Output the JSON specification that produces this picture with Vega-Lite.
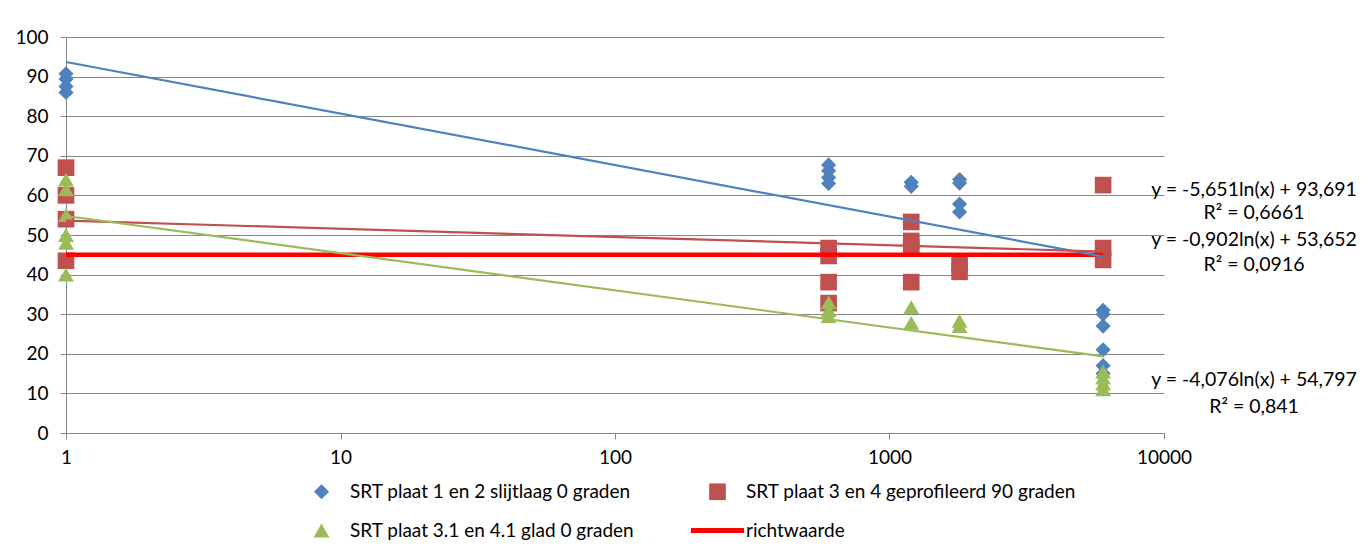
{
  "$schema": "https://vega.github.io/schema/vega-lite/v6.json",
  "autosize": {"type": "none"},
  "width": 1098,
  "height": 396,
  "padding": {"left": 66, "top": 37, "right": 207, "bottom": 118},
  "background": "white",
  "config": {
    "view": {"stroke": null},
    "font": "Lato",
    "axis": {"labelFont": "Lato", "labelFontSize": 19, "labelColor": "#000000", "title": null, "domainColor": "#868686", "tickColor": "#868686", "gridColor": "#868686", "gridOpacity": 1, "tickSize": 6, "labelOverlap": false}
  },
  "datasets": {
    "points": [
      {"series": "SRT plaat 1 en 2 slijtlaag 0 graden", "x": 1, "y": 90.7},
      {"series": "SRT plaat 1 en 2 slijtlaag 0 graden", "x": 1, "y": 89.4},
      {"series": "SRT plaat 1 en 2 slijtlaag 0 graden", "x": 1, "y": 87.5},
      {"series": "SRT plaat 1 en 2 slijtlaag 0 graden", "x": 1, "y": 86},
      {"series": "SRT plaat 1 en 2 slijtlaag 0 graden", "x": 600, "y": 67.7},
      {"series": "SRT plaat 1 en 2 slijtlaag 0 graden", "x": 600, "y": 66.2},
      {"series": "SRT plaat 1 en 2 slijtlaag 0 graden", "x": 600, "y": 64.5},
      {"series": "SRT plaat 1 en 2 slijtlaag 0 graden", "x": 600, "y": 63},
      {"series": "SRT plaat 1 en 2 slijtlaag 0 graden", "x": 1200, "y": 63.3},
      {"series": "SRT plaat 1 en 2 slijtlaag 0 graden", "x": 1200, "y": 62.3},
      {"series": "SRT plaat 1 en 2 slijtlaag 0 graden", "x": 1800, "y": 64},
      {"series": "SRT plaat 1 en 2 slijtlaag 0 graden", "x": 1800, "y": 63.1},
      {"series": "SRT plaat 1 en 2 slijtlaag 0 graden", "x": 1800, "y": 57.8},
      {"series": "SRT plaat 1 en 2 slijtlaag 0 graden", "x": 1800, "y": 55.8},
      {"series": "SRT plaat 1 en 2 slijtlaag 0 graden", "x": 6000, "y": 31},
      {"series": "SRT plaat 1 en 2 slijtlaag 0 graden", "x": 6000, "y": 30},
      {"series": "SRT plaat 1 en 2 slijtlaag 0 graden", "x": 6000, "y": 27},
      {"series": "SRT plaat 1 en 2 slijtlaag 0 graden", "x": 6000, "y": 21},
      {"series": "SRT plaat 1 en 2 slijtlaag 0 graden", "x": 6000, "y": 17},
      {"series": "SRT plaat 1 en 2 slijtlaag 0 graden", "x": 6000, "y": 15},
      {"series": "SRT plaat 3 en 4 geprofileerd 90 graden", "x": 1, "y": 67},
      {"series": "SRT plaat 3 en 4 geprofileerd 90 graden", "x": 1, "y": 60},
      {"series": "SRT plaat 3 en 4 geprofileerd 90 graden", "x": 1, "y": 54},
      {"series": "SRT plaat 3 en 4 geprofileerd 90 graden", "x": 1, "y": 43.5},
      {"series": "SRT plaat 3 en 4 geprofileerd 90 graden", "x": 600, "y": 46.7},
      {"series": "SRT plaat 3 en 4 geprofileerd 90 graden", "x": 600, "y": 44.7},
      {"series": "SRT plaat 3 en 4 geprofileerd 90 graden", "x": 600, "y": 38.1},
      {"series": "SRT plaat 3 en 4 geprofileerd 90 graden", "x": 600, "y": 32.8},
      {"series": "SRT plaat 3 en 4 geprofileerd 90 graden", "x": 1200, "y": 53.3},
      {"series": "SRT plaat 3 en 4 geprofileerd 90 graden", "x": 1200, "y": 48.5},
      {"series": "SRT plaat 3 en 4 geprofileerd 90 graden", "x": 1200, "y": 47},
      {"series": "SRT plaat 3 en 4 geprofileerd 90 graden", "x": 1200, "y": 38.1},
      {"series": "SRT plaat 3 en 4 geprofileerd 90 graden", "x": 1800, "y": 42.9},
      {"series": "SRT plaat 3 en 4 geprofileerd 90 graden", "x": 1800, "y": 40.7},
      {"series": "SRT plaat 3 en 4 geprofileerd 90 graden", "x": 6000, "y": 62.6},
      {"series": "SRT plaat 3 en 4 geprofileerd 90 graden", "x": 6000, "y": 46.7},
      {"series": "SRT plaat 3 en 4 geprofileerd 90 graden", "x": 6000, "y": 43.7},
      {"series": "SRT plaat 3.1 en 4.1 glad 0 graden", "x": 1, "y": 64},
      {"series": "SRT plaat 3.1 en 4.1 glad 0 graden", "x": 1, "y": 61.5},
      {"series": "SRT plaat 3.1 en 4.1 glad 0 graden", "x": 1, "y": 55},
      {"series": "SRT plaat 3.1 en 4.1 glad 0 graden", "x": 1, "y": 50},
      {"series": "SRT plaat 3.1 en 4.1 glad 0 graden", "x": 1, "y": 48},
      {"series": "SRT plaat 3.1 en 4.1 glad 0 graden", "x": 1, "y": 40},
      {"series": "SRT plaat 3.1 en 4.1 glad 0 graden", "x": 600, "y": 33},
      {"series": "SRT plaat 3.1 en 4.1 glad 0 graden", "x": 600, "y": 31},
      {"series": "SRT plaat 3.1 en 4.1 glad 0 graden", "x": 600, "y": 29.5},
      {"series": "SRT plaat 3.1 en 4.1 glad 0 graden", "x": 1200, "y": 31.8},
      {"series": "SRT plaat 3.1 en 4.1 glad 0 graden", "x": 1200, "y": 27.8},
      {"series": "SRT plaat 3.1 en 4.1 glad 0 graden", "x": 1800, "y": 28.3},
      {"series": "SRT plaat 3.1 en 4.1 glad 0 graden", "x": 1800, "y": 27},
      {"series": "SRT plaat 3.1 en 4.1 glad 0 graden", "x": 6000, "y": 15.5},
      {"series": "SRT plaat 3.1 en 4.1 glad 0 graden", "x": 6000, "y": 14},
      {"series": "SRT plaat 3.1 en 4.1 glad 0 graden", "x": 6000, "y": 12.5},
      {"series": "SRT plaat 3.1 en 4.1 glad 0 graden", "x": 6000, "y": 11}
    ],
    "trend": [
      {"series": "SRT plaat 1 en 2 slijtlaag 0 graden", "x": 1, "y": 93.691},
      {"series": "SRT plaat 1 en 2 slijtlaag 0 graden", "x": 6000, "y": 44.53},
      {"series": "SRT plaat 3 en 4 geprofileerd 90 graden", "x": 1, "y": 53.652},
      {"series": "SRT plaat 3 en 4 geprofileerd 90 graden", "x": 6000, "y": 45.805},
      {"series": "SRT plaat 3.1 en 4.1 glad 0 graden", "x": 1, "y": 54.797},
      {"series": "SRT plaat 3.1 en 4.1 glad 0 graden", "x": 6000, "y": 19.338}
    ],
    "ref": [
      {"series": "richtwaarde", "x": 1, "y": 45},
      {"series": "richtwaarde", "x": 6000, "y": 45}
    ],
    "labels": [
      {"x": 21280, "y": 61.4, "label": "y = -5,651ln(x) + 93,691"},
      {"x": 21280, "y": 55.6, "label": "R² = 0,6661"},
      {"x": 21280, "y": 48.7, "label": "y = -0,902ln(x) + 53,652"},
      {"x": 21280, "y": 42.4, "label": "R² = 0,0916"},
      {"x": 21280, "y": 13.4, "label": "y = -4,076ln(x) + 54,797"},
      {"x": 21280, "y": 6.6, "label": "R² = 0,841"}
    ]
  },
  "encoding": {
    "x": {"field": "x", "type": "quantitative", "scale": {"type": "log", "domain": [1, 10000]}, "axis": {"values": [1, 10, 100, 1000, 10000], "tickCount": 10, "format": "d", "grid": false, "labelPadding": 9, "labelFlush": false}},
    "y": {"field": "y", "type": "quantitative", "scale": {"domain": [0, 100]}, "axis": {"values": [0, 10, 20, 30, 40, 50, 60, 70, 80, 90, 100], "tickCount": 12, "grid": true, "labelPadding": 12}}
  },
  "layer": [
    {
      "data": {"name": "points"},
      "mark": {"type": "point", "filled": true, "opacity": 1, "strokeWidth": 0},
      "encoding": {
        "color": {
          "field": "series", "type": "nominal",
          "scale": {"domain": ["SRT plaat 1 en 2 slijtlaag 0 graden", "SRT plaat 3.1 en 4.1 glad 0 graden", "SRT plaat 3 en 4 geprofileerd 90 graden", "richtwaarde"], "range": ["#4F81BD", "#9BBB59", "#C0504D", "#FF0000"]},
          "legend": {"title": null, "orient": "none", "legendX": 246, "legendY": 445, "columns": 2, "columnPadding": 55, "rowPadding": 19, "symbolSize": 196, "symbolStrokeWidth": 0, "labelFontSize": 19, "labelFont": "Lato", "labelColor": "#000000", "labelOffset": 19, "labelLimit": 0, "padding": 0}
        },
        "shape": {
          "field": "series", "type": "nominal",
          "scale": {"domain": ["SRT plaat 1 en 2 slijtlaag 0 graden", "SRT plaat 3.1 en 4.1 glad 0 graden", "SRT plaat 3 en 4 geprofileerd 90 graden", "richtwaarde"], "range": ["diamond", "triangle-up", "square", "M-3.07,-0.29H3.07V0.29H-3.07Z"]}
        },
        "size": {
          "field": "series", "type": "nominal",
          "scale": {"domain": ["SRT plaat 1 en 2 slijtlaag 0 graden", "SRT plaat 3.1 en 4.1 glad 0 graden", "SRT plaat 3 en 4 geprofileerd 90 graden", "richtwaarde"], "range": [230, 300, 290, 100]},
          "legend": null
        }
      }
    },
    {
      "data": {"name": "ref"},
      "mark": {"type": "line", "color": "#FF0000", "strokeWidth": 4.5}
    },
    {
      "data": {"name": "trend"},
      "mark": {"type": "line", "strokeWidth": 2.2},
      "encoding": {
        "stroke": {
          "field": "series", "type": "nominal",
          "scale": {"domain": ["SRT plaat 1 en 2 slijtlaag 0 graden", "SRT plaat 3 en 4 geprofileerd 90 graden", "SRT plaat 3.1 en 4.1 glad 0 graden"], "range": ["#4F81BD", "#C0504D", "#9BBB59"]},
          "legend": null
        }
      }
    },
    {
      "data": {"name": "labels"},
      "mark": {"type": "text", "align": "center", "baseline": "middle", "fontSize": 19.5, "font": "Lato", "color": "#000000"},
      "encoding": {
        "text": {"field": "label", "type": "nominal"}
      }
    }
  ]
}
